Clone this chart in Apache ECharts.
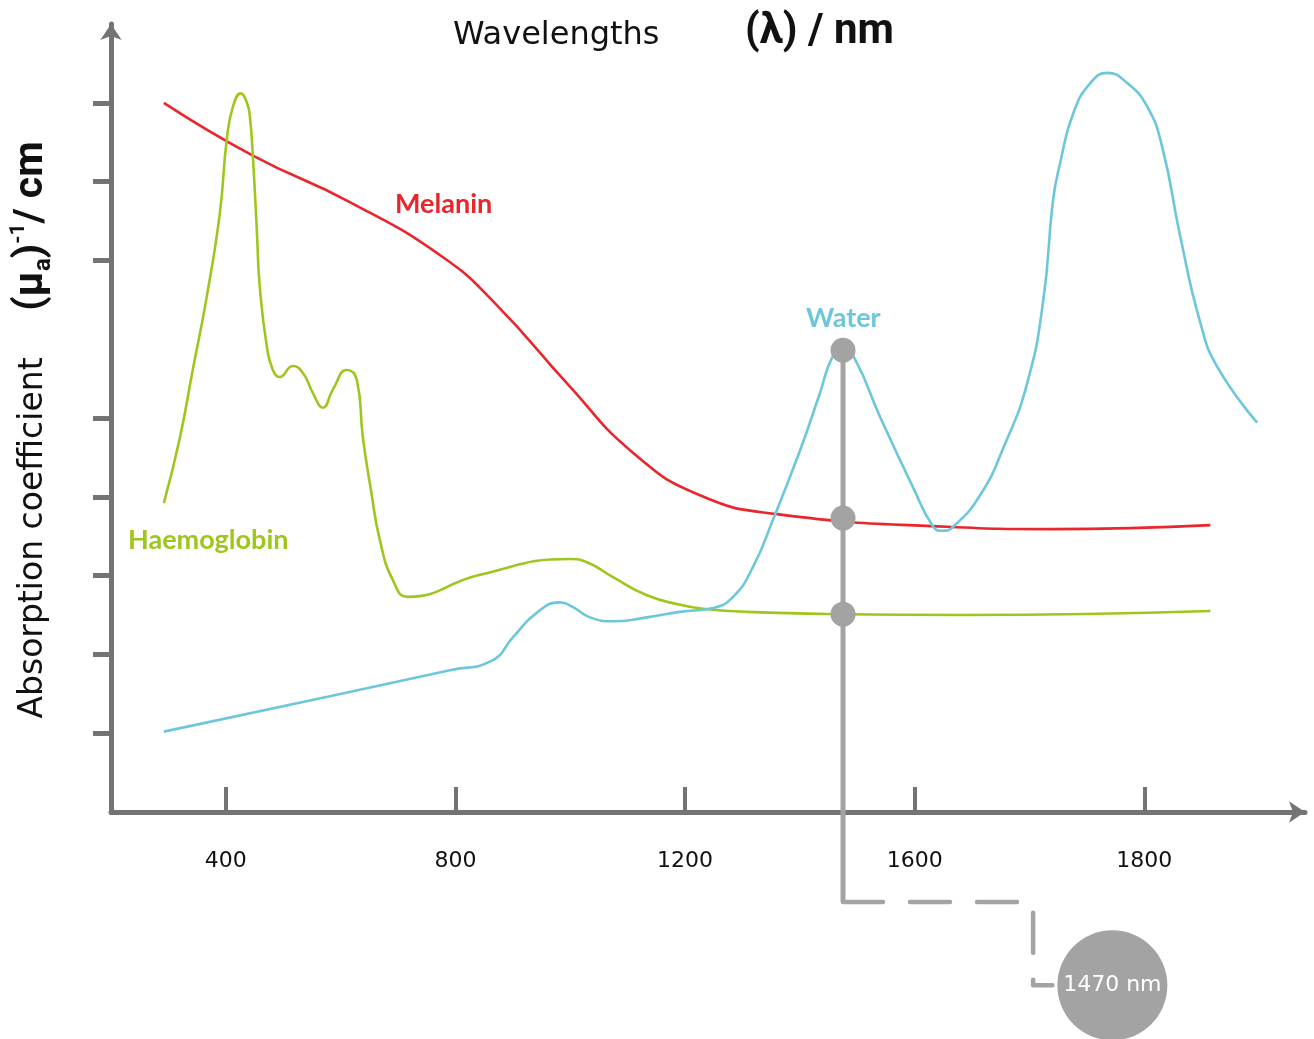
<!DOCTYPE html>
<html>
<head>
<meta charset="utf-8">
<script src="https://cdn.jsdelivr.net/npm/echarts@6/dist/echarts.min.js"></script>
<style>html,body{margin:0;padding:0;background:#fff}#c{width:1314px;height:1039px}</style>
</head>
<body>
<div id="c"></div>
<script>
// Tick positions along the (non-linear) wavelength axis and their labels
const tickPos = [1, 2, 3, 4, 5];
const tickLabels = ['400', '800', '1200', '1600', '1800'];
const yTickPos = [1, 2, 3, 4, 5, 7, 8, 9];

// Curves: [axis position, absorption (relative units)]
const melanin = [[0.730,9.00],[1.118,8.33],[1.540,7.74],[1.946,7.04],[2.181,6.43],[2.486,5.44],[2.773,4.56],[3.065,4.02],[3.401,3.78],[4.142,3.62],[4.590,3.59],[5.288,3.64]];
const haemoglobin = [[0.730,3.92],[0.800,4.75],[0.856,5.61],[0.917,6.54],[0.974,7.60],[1.004,8.53],[1.031,8.95],[1.065,9.12],[1.092,9.00],[1.105,8.82],[1.118,8.31],[1.135,7.39],[1.148,6.66],[1.179,5.90],[1.205,5.61],[1.235,5.52],[1.292,5.66],[1.336,5.57],[1.379,5.32],[1.423,5.13],[1.466,5.36],[1.527,5.61],[1.571,5.48],[1.597,4.75],[1.632,4.09],[1.671,3.45],[1.728,2.94],[1.793,2.73],[2.107,3.01],[2.499,3.21],[2.573,3.17],[2.686,2.98],[2.834,2.75],[2.978,2.63],[3.078,2.58],[3.270,2.54],[3.688,2.51],[4.198,2.50],[5.288,2.55]];
const water = [[0.730,1.02],[1.453,1.47],[1.976,1.80],[2.159,1.92],[2.251,2.22],[2.355,2.53],[2.455,2.66],[2.512,2.60],[2.586,2.47],[2.686,2.42],[2.834,2.47],[2.978,2.54],[3.122,2.59],[3.209,2.73],[3.296,3.11],[3.383,3.71],[3.501,4.59],[3.588,5.32],[3.641,5.77],[3.688,5.89],[3.741,5.74],[3.850,5.01],[3.993,4.12],[4.081,3.62],[4.120,3.57],[4.168,3.62],[4.285,4.02],[4.386,4.62],[4.490,5.44],[4.560,6.49],[4.603,7.77],[4.634,8.24],[4.691,8.87],[4.765,9.25],[4.839,9.38],[4.926,9.25],[5.013,8.95],[5.078,8.44],[5.157,7.30],[5.244,6.21],[5.318,5.65],[5.492,4.94]];

// 1470 nm marker
const markerLabel = '1470 nm';
const markerX = 3.688;
const markerYs = [5.86, 3.73, 2.51];
const calloutY = -1.142, calloutX2 = 4.516, calloutY2 = -2.2, calloutEndX = 4.60, bubbleX = 4.861;

const AXIS = '#747474';
const GREY = '#a3a3a3';
const chart = echarts.init(document.getElementById('c'), null, {renderer: 'canvas'});

const curve = (name, data, color) => ({
  type: 'line', name, data, smooth: 0.5, showSymbol: false, symbol: 'none',
  lineStyle: {color, width: 2.6}, z: 3, silent: true
});

const option = {
  animation: false,
  backgroundColor: '#fff',
  grid: {left: 111, right: 9, top: 24, bottom: 227},
  xAxis: {
    type: 'value', min: 0.5, max: 5.7,
    axisLine: {show: true, lineStyle: {color: AXIS, width: 5}, symbol: ['none', 'arrow'], symbolSize: [16, 16]},
    axisTick: {show: true, inside: true, length: 25, lineStyle: {color: AXIS, width: 4}, customValues: tickPos},
    axisLabel: {show: true, customValues: tickPos, margin: 38, color: '#111', fontSize: 22, fontFamily: 'DejaVu Sans',
      formatter: v => tickLabels[tickPos.indexOf(Math.round(v))] || ''},
    splitLine: {show: false}
  },
  yAxis: {
    type: 'value', min: 0, max: 10,
    axisLine: {show: true, lineStyle: {color: AXIS, width: 5}, symbol: ['none', 'arrow'], symbolSize: [16, 16]},
    axisTick: {show: true, inside: false, length: 18, lineStyle: {color: AXIS, width: 5}, customValues: yTickPos},
    axisLabel: {show: false},
    splitLine: {show: false}
  },
  series: [
    curve('Melanin', melanin, '#e8262b'),
    curve('Haemoglobin', haemoglobin, '#9ec61c'),
    curve('Water', water, '#6cc7db'),
    {
      type: 'line', clip: false, silent: true, z: 5,
      data: [[markerX, markerYs[0]], [markerX, calloutY]],
      symbol: 'none', lineStyle: {color: GREY, width: 5}
    },
    {
      type: 'line', clip: false, silent: true, z: 5,
      data: [[markerX, calloutY], [calloutX2, calloutY], [calloutX2, calloutY2], [calloutEndX, calloutY2]],
      symbol: 'none', lineStyle: {color: GREY, width: 4.5, type: [40, 27], cap: 'round', join: 'round'}
    },
    {
      type: 'scatter', clip: false, silent: true, z: 6,
      data: markerYs.map(y => [markerX, y]), symbol: 'circle', symbolSize: 25,
      itemStyle: {color: GREY, opacity: 1}
    },
    {
      type: 'scatter', clip: false, silent: true, z: 6,
      data: [[bubbleX, calloutY2]], symbol: 'circle', symbolSize: 110,
      itemStyle: {color: GREY, opacity: 1},
      label: {show: true, position: 'inside', formatter: markerLabel, color: '#fff', fontSize: 22, fontFamily: 'DejaVu Sans'}
    }
  ],
  graphic: [
    {type: 'text', left: 453, top: 20, style: {text: 'Wavelengths', font: '32px "DejaVu Sans"', fill: '#111'}},
    {type: 'text', left: 745, top: 11, style: {text: '(λ) / nm', font: 'bold 42px Roboto', fill: '#111'}},
    {type: 'text', left: 395, top: 191, style: {text: 'Melanin', font: 'bold 27px Lato', fill: '#e8262b'}},
    {type: 'text', left: 806, top: 305, style: {text: 'Water', font: 'bold 27px Lato', fill: '#6cc7db'}},
    {type: 'text', left: 128, top: 527, style: {text: 'Haemoglobin', font: 'bold 27px Lato', fill: '#9ec61c'}},
    {type: 'text', x: 33, y: 538, rotation: Math.PI / 2,
      style: {text: 'Absorption coefficient', font: '33px "DejaVu Sans"', fill: '#111', align: 'center', verticalAlign: 'middle'}},
    {type: 'text', x: 32, y: 226, rotation: Math.PI / 2,
      style: {
        text: '{b|(μ}{sub|a}{b|)}{sup|-1}{b|/ cm}', align: 'center', verticalAlign: 'middle', fill: '#111',
        rich: {
          b: {fontSize: 41, fontWeight: 'bold', fontFamily: 'Roboto', lineHeight: 48, verticalAlign: 'middle'},
          sub: {fontSize: 24, fontWeight: 'bold', fontFamily: 'Roboto', lineHeight: 22, verticalAlign: 'bottom'},
          sup: {fontSize: 21, fontWeight: 'bold', fontFamily: 'Roboto', lineHeight: 20, verticalAlign: 'top'}
        }
      }}
  ]
};
chart.setOption(option);
</script>
</body>
</html>
